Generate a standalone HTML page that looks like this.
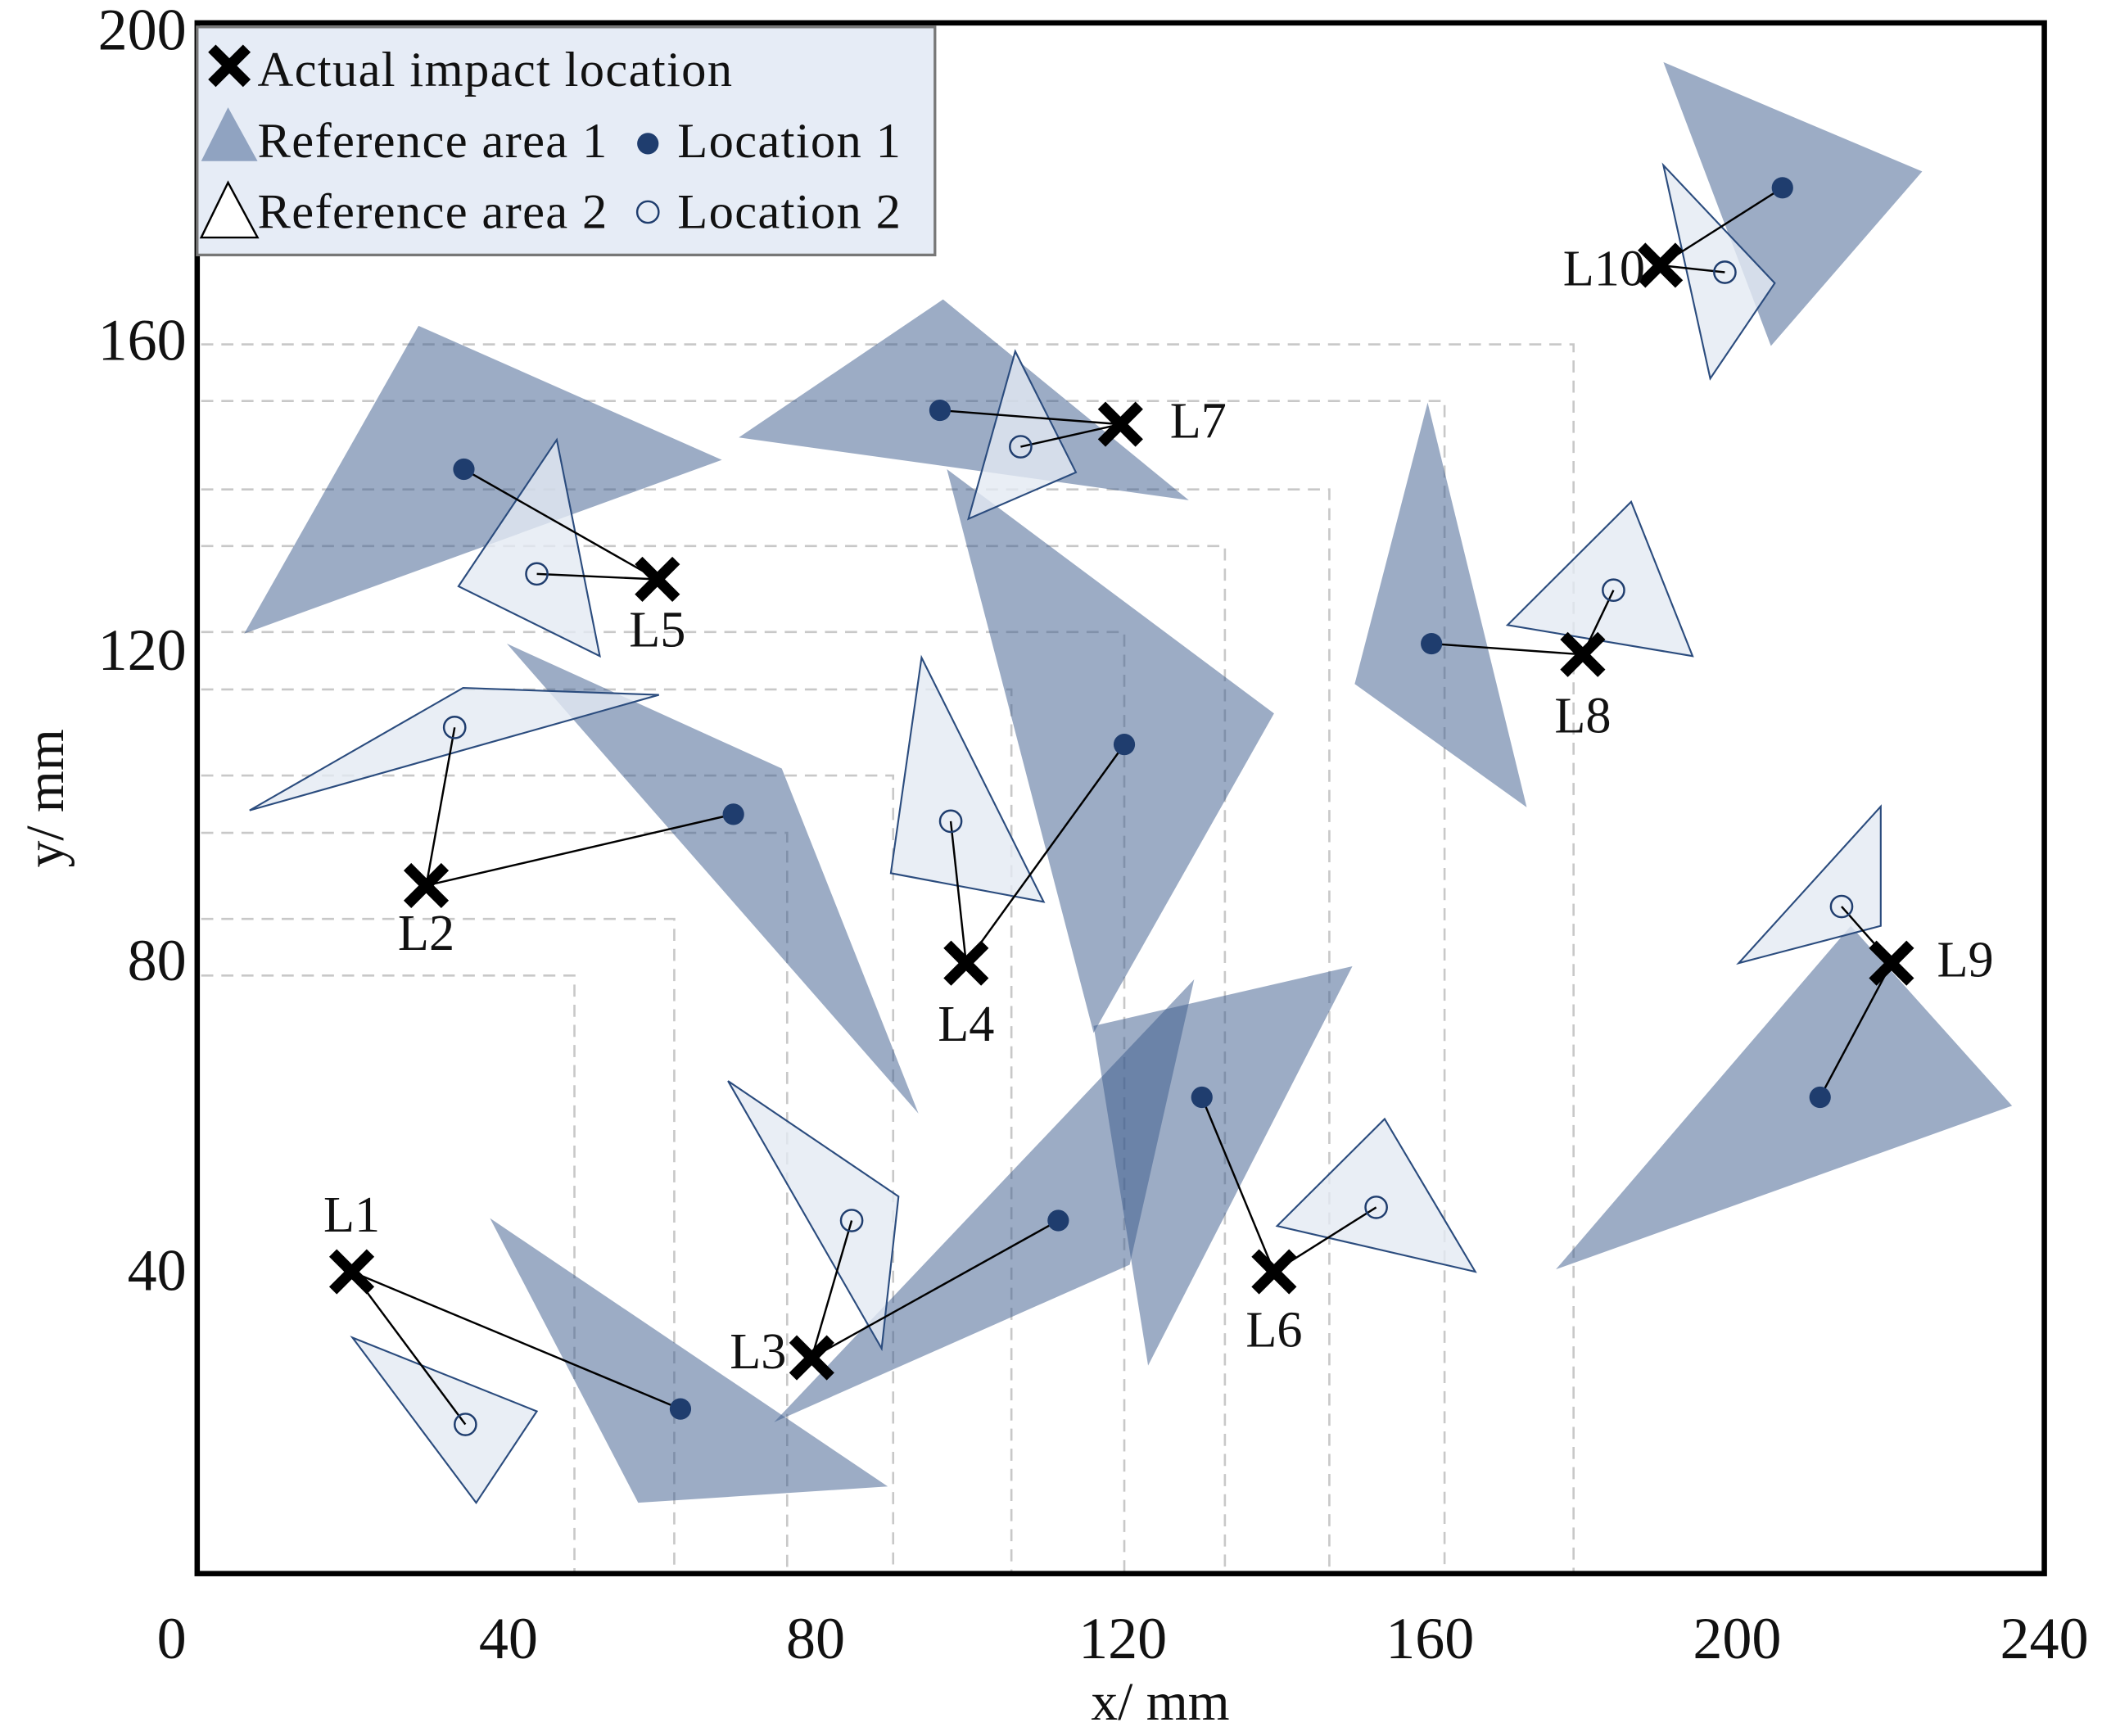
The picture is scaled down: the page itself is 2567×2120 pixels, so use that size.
<!DOCTYPE html>
<html><head><meta charset="utf-8"><style>
html,body{margin:0;padding:0;background:#fff}
svg{display:block}
text{font-family:"Liberation Serif",serif;fill:#111}
</style></head><body>
<svg id="chart" xmlns="http://www.w3.org/2000/svg" width="2567" height="2120" viewBox="0 0 1567 1294">
<g id="grid"></g>
<g id="areas"></g>
<g id="marks"></g>
<rect x="147" y="17" width="1377" height="1156" fill="none" stroke="#000" stroke-width="4"/>
<g id="ticks"></g>
<text x="865" y="1282" font-size="40" text-anchor="middle">x/ mm</text>
<text x="47" y="595" font-size="40" text-anchor="middle" transform="rotate(-90 47 595)">y/ mm</text>
<g>
<rect x="147" y="20" width="550" height="170" fill="#e6ecf6" stroke="#777" stroke-width="2"/>
<g>
<path d="M158 36 L184 62 M184 36 L158 62" stroke="#000" stroke-width="8"/>
<text x="192" y="64" font-size="37" letter-spacing="0.8">Actual impact location</text></g>
<g>
<polygon points="150,120 170,80 192,120" fill="#3a5a8c" fill-opacity="0.5"/>
<text x="192" y="117" font-size="37" letter-spacing="0.8">Reference area 1</text></g>
<g>
<circle cx="483" cy="107" r="8" fill="#1f3d6e"/>
<text x="505" y="117" font-size="37" letter-spacing="0.8">Location 1</text></g>
<g>
<polygon points="150,177 170,136 192,177" fill="#fff" stroke="#000" stroke-width="1.5"/>
<text x="192" y="170" font-size="37" letter-spacing="0.8">Reference area 2</text></g>
<g>
<circle cx="483" cy="158" r="8" fill="none" stroke="#1f3d6e" stroke-width="1.5"/>
<text x="505" y="170" font-size="37" letter-spacing="0.8">Location 2</text></g>
</g>
</svg>
<script>
const labels=["L1","L2","L3","L4","L5","L6","L7","L8","L9","L10"];
const impactX=[19.6,29.3,79.5,99.6,59.4,139.7,119.7,179.9,220.1,190];
const impactY=[39.8,89.6,28.7,79.6,129.1,39.8,149.1,119.4,79.6,169.6];
const loc1X=[62.4,69.3,111.6,120.2,34.2,130.3,96.2,160.2,210.8,205.9];
const loc1Y=[22.1,98.8,46.4,107.8,143.3,62.3,150.9,120.8,62.3,179.6];
const loc2X=[34.4,33,84.7,97.6,43.7,153,106.7,183.9,213.6,198.4];
const loc2Y=[20.1,110,46.4,97.9,129.8,48.1,146.2,127.7,86.9,168.7];
const area1=[
[[37.6,46.7],[89.4,12.1],[56.9,10.0]],
[[39.8,120.8],[75.6,104.7],[93.4,60.2]],
[[74.6,20.4],[129.3,77.5],[120.9,40.7]],
[[97.1,143.3],[139.7,111.8],[116.2,70.6]],
[[5.6,122.1],[28.3,161.8],[67.8,144.5]],
[[116.2,71.5],[149.9,79.2],[123.3,27.7]],
[[70,147.4],[96.6,165.2],[128.6,139.3]],
[[159.7,151.9],[172.6,99.7],[150.2,115.6]],
[[176.4,40.1],[214.8,84.4],[235.8,61.2]],
[[190.4,195.8],[224.1,181.7],[204.4,159.2]]];
const area2=[
[[19.7,31.3],[43.7,21.8],[35.8,10.0]],
[[6.3,99.3],[34.1,115.1],[59.6,114.2]],
[[68.6,64.4],[90.8,49.5],[88.6,29.9]],
[[93.8,119],[109.7,87.5],[89.8,91.2]],
[[33.5,128.2],[46.3,147.1],[51.9,119.2]],
[[140.1,45.7],[154.1,59.5],[165.9,39.8]],
[[99.9,136.9],[106,158.5],[113.9,142.9]],
[[170.1,123.2],[186.2,139.1],[194.2,119.2]],
[[200.2,79.6],[218.7,99.8],[218.7,84.4]],
[[190.4,182.5],[204.9,167.3],[196.5,155]]];
const xTicks=[0,40,80,120,160,200,240];
const yTicks=[40,80,120,160,200];
const guideX=[48.6,61.6,76.3,90.1,105.5,120.2,133.3,146.9,161.9,178.7];
const guideY=[78.0,85.3,96.4,103.8,114.9,122.3,133.4,140.7,152.1,159.4];

const NS="http://www.w3.org/2000/svg";
const sx=v=>150+v*5.725, sy=v=>1178-v*5.78;
function mk(tag,attrs,parent){const e=document.createElementNS(NS,tag);for(const k in attrs)e.setAttribute(k,attrs[k]);parent.appendChild(e);return e;}
const grid=document.getElementById('grid'),areas=document.getElementById('areas'),marks=document.getElementById('marks'),ticks=document.getElementById('ticks');
guideX.forEach((gx,i)=>{
 const p=mk('path',{d:`M150 ${sy(guideY[i])} H${sx(gx)} V1173`,fill:'none',stroke:'#c8c8c8','stroke-width':1.6,'stroke-dasharray':'9 6'},grid);
 
 
});
area1.forEach((t,i)=>{
 const p=mk('polygon',{points:t.map(q=>sx(q[0])+','+sy(q[1])).join(' '),fill:'#3a5a8c','fill-opacity':0.5},areas);
 
 
});
area2.forEach((t,i)=>{
 const p=mk('polygon',{points:t.map(q=>sx(q[0])+','+sy(q[1])).join(' '),fill:'#e4eaf3','fill-opacity':0.8,stroke:'#2b4c7e','stroke-width':1.3},areas);
 
 
});
const labOff=[[0,-30],[0,48],[-40,8],[0,58],[0,50],[0,56],[58,10],[0,58],[55,10],[-42,15]];
labels.forEach((l,i)=>{
 const ix=sx(impactX[i]),iy=sy(impactY[i]);
 mk('line',{x1:ix,y1:iy,x2:sx(loc1X[i]),y2:sy(loc1Y[i]),stroke:'#000','stroke-width':1.5},marks);
 mk('line',{x1:ix,y1:iy,x2:sx(loc2X[i]),y2:sy(loc2Y[i]),stroke:'#000','stroke-width':1.5},marks);
 const c1=mk('circle',{cx:sx(loc1X[i]),cy:sy(loc1Y[i]),r:8,fill:'#1f3d6e'},marks);
 
 
 const c2=mk('circle',{cx:sx(loc2X[i]),cy:sy(loc2Y[i]),r:8,fill:'none',stroke:'#1f3d6e','stroke-width':1.5},marks);
 
 
 const x=mk('path',{d:`M${ix-14} ${iy-14} L${ix+14} ${iy+14} M${ix+14} ${iy-14} L${ix-14} ${iy+14}`,stroke:'#000','stroke-width':8},marks);
 
 
 const t=mk('text',{x:ix+labOff[i][0],y:iy+labOff[i][1],'font-size':38,'text-anchor':'middle'},marks);
 t.textContent=l;
 
 
});
xTicks.forEach(v=>{
 const t=mk('text',{x:v===0?128:sx(v),y:1236,'font-size':44,'text-anchor':'middle'},ticks);
 t.textContent=v;
 
 
});
yTicks.forEach(v=>{
 const t=mk('text',{x:139,y:sy(v)+15,'font-size':44,'text-anchor':'end'},ticks);
 t.textContent=v;
 
 
});
</script>
</body></html>
